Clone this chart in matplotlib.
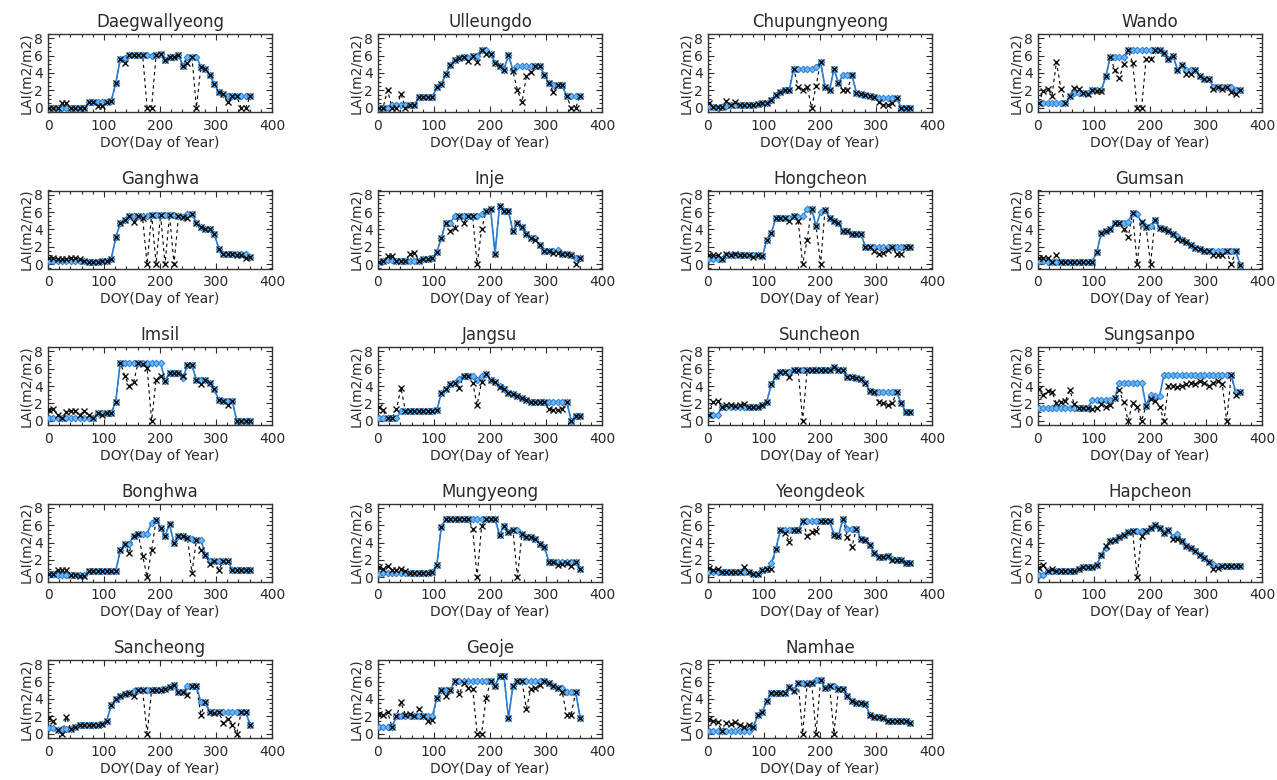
import numpy as np
import matplotlib
matplotlib.use("Agg")
import matplotlib.pyplot as plt
from matplotlib.ticker import MultipleLocator

# 8-day composites, DOY 1..361
doy = list(range(1, 362, 8))

stations = ["Daegwallyeong", "Ulleungdo", "Chupungnyeong", "Wando",
            "Ganghwa", "Inje", "Hongcheon", "Gumsan",
            "Imsil", "Jangsu", "Suncheon", "Sungsanpo",
            "Bonghwa", "Mungyeong", "Yeongdeok", "Hapcheon",
            "Sancheong", "Geoje", "Namhae"]

# blue series (filtered LAI), one list per station
lai_daegwallyeong = [0.0, 0.0, 0.0, 0.0, 0.0, 0.0, 0.0, 0.0, 0.0, 0.6,
                     0.6, 0.6, 0.6, 0.6, 0.8, 2.8, 5.6, 5.7, 6.1, 6.1,
                     6.1, 6.1, 6.1, 6.0, 6.1, 6.2, 5.5, 5.8, 5.8, 6.1,
                     4.8, 5.9, 5.9, 5.9, 4.7, 4.5, 3.8, 2.7, 1.8, 1.6,
                     1.3, 1.3, 1.3, 1.3, 1.3, 1.3]
lai_ulleungdo = [0.0, 0.0, 0.0, 0.3, 0.3, 0.3, 0.3, 0.3, 0.3, 1.2,
                 1.2, 1.2, 1.2, 2.4, 2.7, 3.9, 4.9, 5.5, 5.7, 5.9,
                 5.7, 6.0, 6.0, 6.7, 6.6, 6.2, 5.2, 4.8, 4.4, 6.1,
                 4.3, 4.8, 4.8, 4.8, 4.8, 4.8, 4.8, 3.8, 2.8, 2.6,
                 2.6, 2.6, 1.3, 1.3, 1.3, 1.3]
lai_chupungnyeong = [0.2, 0.1, 0.0, 0.1, 0.2, 0.3, 0.3, 0.3, 0.3, 0.3,
                     0.3, 0.4, 0.5, 0.5, 0.9, 1.5, 1.8, 2.0, 2.0, 4.5,
                     4.5, 4.5, 4.5, 4.5, 4.7, 5.3, 2.4, 2.0, 4.5, 2.8,
                     3.8, 3.8, 3.8, 1.7, 1.6, 1.5, 1.3, 1.2, 1.1, 1.1,
                     1.1, 1.1, 1.1, 0.0, 0.0, 0.0]
lai_wando = [0.5, 0.5, 0.5, 0.5, 0.5, 0.5, 0.5, 1.3, 1.7, 1.7,
             1.7, 1.7, 2.0, 2.0, 2.0, 3.6, 5.8, 5.8, 5.8, 5.8,
             6.6, 6.6, 6.6, 6.6, 6.6, 6.6, 6.6, 6.6, 6.3, 5.6,
             6.0, 4.4, 4.9, 4.4, 4.4, 4.4, 3.6, 3.3, 3.3, 2.4,
             2.4, 2.4, 2.4, 2.4, 2.0, 2.0]
lai_ganghwa = [0.4, 0.4, 0.4, 0.4, 0.4, 0.4, 0.4, 0.4, 0.4, 0.3,
               0.3, 0.3, 0.4, 0.4, 0.6, 3.1, 4.7, 5.1, 5.6, 5.5,
               5.5, 5.5, 5.5, 5.7, 5.7, 5.7, 5.7, 5.7, 5.7, 5.5,
               5.4, 5.8, 5.8, 4.8, 4.3, 4.0, 4.0, 3.5, 1.8, 1.2,
               1.2, 1.2, 1.2, 1.2, 1.2, 0.8]
lai_inje = [0.2, 0.4, 0.5, 0.5, 0.4, 0.4, 0.4, 0.4, 0.4, 0.4,
            0.6, 0.6, 0.7, 1.4, 3.0, 4.8, 4.8, 5.5, 5.5, 5.5,
            5.5, 5.5, 5.6, 5.8, 6.1, 6.4, 1.2, 6.7, 6.1, 6.1,
            3.8, 4.7, 4.3, 3.5, 3.0, 3.0, 2.2, 1.5, 1.5, 1.5,
            1.6, 1.2, 1.2, 1.0, 0.7, 0.7]
lai_hongcheon = [0.6, 0.6, 0.6, 0.6, 1.0, 1.0, 1.0, 1.0, 1.0, 1.0,
                 1.0, 1.0, 0.9, 2.8, 3.6, 5.3, 5.3, 5.3, 5.3, 5.5,
                 5.4, 5.5, 6.4, 6.4, 4.4, 6.0, 6.3, 5.3, 5.0, 4.8,
                 3.8, 3.8, 3.5, 3.5, 3.5, 2.0, 2.0, 2.0, 2.0, 2.0,
                 2.0, 2.0, 2.0, 2.0, 2.0, 2.0]
lai_gumsan = [0.4, 0.4, 0.3, 0.3, 0.3, 0.3, 0.3, 0.3, 0.3, 0.3,
              0.3, 0.3, 0.3, 1.4, 3.6, 3.8, 4.1, 4.7, 4.7, 4.7,
              4.9, 5.9, 5.8, 4.8, 4.3, 4.4, 5.1, 4.2, 4.0, 3.8,
              3.5, 3.2, 2.8, 2.5, 2.2, 1.9, 1.7, 1.5, 1.5, 1.5,
              1.5, 1.5, 1.5, 1.5, 1.5, -0.1]
lai_imsil = [0.3, 0.3, 0.3, 0.3, 0.3, 0.3, 0.3, 0.3, 0.3, 0.3,
             0.3, 0.9, 0.9, 0.9, 0.9, 2.2, 6.7, 6.7, 6.7, 6.7,
             6.7, 6.7, 6.7, 6.7, 6.7, 6.7, 4.6, 5.5, 5.5, 5.5,
             4.9, 6.4, 6.4, 4.7, 4.7, 4.7, 4.3, 3.6, 2.4, 2.3,
             2.3, 2.3, 0.0, 0.0, 0.0, 0.0]
lai_jangsu = [0.3, 0.3, 0.3, 0.3, 0.3, 1.1, 1.1, 1.1, 1.1, 1.1,
              1.1, 1.1, 1.1, 1.2, 3.2, 3.6, 4.2, 4.4, 4.8, 5.2,
              5.2, 5.2, 4.7, 5.2, 5.4, 4.7, 4.5, 4.0, 3.6, 3.2,
              3.1, 2.8, 2.6, 2.4, 2.2, 2.2, 2.2, 2.2, 2.2, 2.2,
              2.2, 2.2, 2.2, 0.0, 0.5, 0.5]
lai_suncheon = [0.6, 0.6, 0.6, 1.6, 1.6, 1.6, 1.6, 1.6, 1.6, 1.6,
                1.6, 1.6, 1.8, 2.2, 4.2, 5.1, 5.6, 5.6, 5.6, 5.8,
                5.8, 5.8, 5.8, 5.9, 5.9, 5.9, 5.9, 5.9, 6.2, 5.8,
                5.8, 5.0, 5.0, 4.9, 4.8, 4.3, 3.4, 3.3, 3.3, 3.3,
                3.3, 3.3, 3.3, 2.0, 1.0, 1.0]
lai_sungsanpo = [1.5, 1.5, 1.5, 1.5, 1.5, 1.5, 1.5, 1.5, 1.5, 1.5,
                 1.5, 1.5, 2.4, 2.4, 2.4, 2.4, 2.4, 2.6, 4.4, 4.4,
                 4.4, 4.4, 4.4, 4.4, 1.7, 3.0, 2.9, 2.8, 5.3, 5.3,
                 5.3, 5.3, 5.3, 5.3, 5.3, 5.3, 5.3, 5.3, 5.3, 5.3,
                 5.3, 5.3, 5.3, 5.3, 3.3, 3.3]
lai_bonghwa = [0.4, 0.4, 0.2, 0.2, 0.2, 0.2, 0.2, 0.2, 0.2, 0.7,
               0.7, 0.7, 0.7, 0.7, 0.7, 0.7, 3.1, 3.8, 3.8, 4.8,
               5.0, 5.0, 5.0, 6.3, 6.6, 5.7, 4.8, 6.1, 3.9, 4.8,
               4.8, 4.5, 4.4, 4.3, 4.3, 2.6, 1.9, 1.9, 1.9, 1.9,
               1.9, 0.8, 0.8, 0.8, 0.8, 0.8]
lai_mungyeong = [0.4, 0.5, 0.5, 0.5, 0.5, 0.5, 0.5, 0.5, 0.5, 0.5,
                 0.5, 0.5, 0.6, 1.4, 5.8, 6.7, 6.7, 6.7, 6.7, 6.7,
                 6.7, 6.7, 6.7, 6.7, 6.7, 6.7, 6.7, 4.9, 5.9, 5.2,
                 5.4, 5.4, 5.0, 4.6, 4.6, 4.4, 3.8, 3.5, 1.8, 1.8,
                 1.8, 1.8, 1.8, 1.8, 1.7, 1.0]
lai_yeongdeok = [0.6, 0.6, 0.6, 0.6, 0.6, 0.6, 0.6, 0.6, 0.6, 0.6,
                 0.4, 0.4, 0.8, 0.9, 1.6, 3.2, 5.4, 5.4, 5.4, 5.4,
                 5.4, 6.5, 6.5, 6.5, 6.5, 6.5, 6.5, 6.5, 4.9, 4.8,
                 6.7, 5.6, 5.6, 5.6, 4.4, 4.3, 3.7, 2.8, 2.3, 2.3,
                 2.5, 2.1, 2.0, 2.0, 1.6, 1.6]
lai_hapcheon = [0.3, 0.3, 0.7, 0.7, 0.7, 0.7, 0.7, 0.7, 0.7, 0.9,
                1.2, 1.2, 1.2, 1.4, 2.6, 3.4, 4.2, 4.3, 4.6, 4.9,
                5.2, 5.3, 5.3, 5.3, 5.3, 5.7, 6.0, 5.7, 5.1, 5.4,
                4.6, 5.0, 4.2, 3.6, 3.4, 3.0, 2.6, 2.2, 1.8, 1.5,
                1.3, 1.3, 1.3, 1.3, 1.3, 1.3]
lai_sancheong = [0.6, 0.6, 0.4, 0.5, 0.5, 0.5, 0.8, 1.0, 1.0, 1.0,
                 1.0, 1.0, 1.1, 1.5, 3.3, 4.0, 4.3, 4.6, 4.7, 4.9,
                 5.0, 5.0, 5.0, 5.0, 5.0, 5.0, 5.2, 5.4, 5.6, 4.8,
                 4.8, 5.5, 5.5, 5.5, 3.6, 3.6, 2.5, 2.5, 2.5, 2.5,
                 2.5, 2.5, 2.5, 2.5, 2.5, 1.0]
lai_geoje = [0.8, 0.8, 0.8, 0.8, 2.0, 2.0, 2.0, 2.0, 2.0, 2.0,
             2.0, 2.0, 2.0, 4.1, 5.0, 5.0, 5.0, 6.1, 6.1, 6.1,
             6.1, 6.1, 6.1, 6.1, 6.1, 6.1, 5.5, 6.7, 6.6, 1.8,
             5.5, 6.1, 6.1, 6.1, 6.1, 6.1, 6.1, 6.1, 5.8, 5.5,
             5.3, 5.3, 4.8, 4.8, 4.8, 1.8]
lai_namhae = [0.3, 0.3, 0.3, 0.3, 0.3, 0.3, 0.3, 0.3, 0.3, 0.3,
              0.8, 2.1, 2.5, 3.8, 4.7, 4.7, 4.7, 4.7, 5.4, 5.0,
              5.9, 5.9, 5.9, 5.9, 6.2, 6.2, 5.3, 5.5, 5.5, 5.2,
              5.2, 4.3, 3.8, 3.5, 3.5, 3.4, 2.2, 1.9, 1.9, 1.8,
              1.5, 1.5, 1.5, 1.5, 1.5, 1.2]

lai_filtered = [lai_daegwallyeong, lai_ulleungdo, lai_chupungnyeong, lai_wando,
                lai_ganghwa, lai_inje, lai_hongcheon, lai_gumsan,
                lai_imsil, lai_jangsu, lai_suncheon, lai_sungsanpo,
                lai_bonghwa, lai_mungyeong, lai_yeongdeok, lai_hapcheon,
                lai_sancheong, lai_geoje, lai_namhae]

# black crosses (raw LAI): composite index -> value, where it differs from the blue curve
raw_diff = [
    {3: 0.5, 4: 0.5, 7: 0.0, 11: 0.2, 12: 0.2, 17: 5.1, 22: 0.0, 23: 0.0, 31: 5.1, 33: 0.0,
     40: 0.6, 43: 0.0, 44: 0.0},
    {2: 2.0, 3: 0.0, 4: 0.0, 5: 1.6, 6: 0.0, 20: 5.4, 22: 5.3, 24: 6.2, 30: 4.2, 31: 2.0,
     32: 0.6, 33: 3.6, 34: 4.1, 39: 1.8, 43: 0.0, 44: 0.0},
    {0: 0.5, 2: 0.1, 4: 0.8, 6: 0.6, 20: 2.4, 21: 2.0, 22: 2.4, 23: 0.0, 24: 2.5, 30: 2.0,
     31: 2.0, 38: 0.6, 39: 0.3, 40: 0.3, 41: 0.5},
    {1: 1.9, 2: 2.2, 3: 1.4, 4: 5.3, 5: 2.1, 8: 2.3, 9: 2.2, 11: 1.6, 13: 1.9, 14: 1.9,
     17: 4.4, 18: 3.4, 19: 5.0, 21: 5.2, 22: 0.0, 23: 0.0, 24: 5.6, 25: 5.6, 33: 3.9, 34: 3.9,
     39: 2.2, 41: 2.1, 43: 1.8, 44: 1.6},
    {0: 0.7, 1: 0.7, 2: 0.6, 3: 0.6, 4: 0.6, 5: 0.7, 6: 0.7, 7: 0.6, 19: 4.9, 21: 5.3,
     22: 0.0, 24: 0.0, 26: 0.0, 28: 0.0, 31: 5.3, 42: 1.0, 43: 1.0, 44: 0.7},
    {2: 0.9, 3: 0.9, 7: 1.2, 8: 1.3, 16: 3.8, 17: 4.2, 19: 4.8, 22: 0.0, 23: 4.0, 35: 2.8,
     39: 1.3, 40: 1.3, 44: 0.0},
    {0: 1.0, 1: 1.0, 2: 1.0, 4: 1.2, 6: 1.2, 7: 1.1, 10: 0.8, 18: 5.0, 20: 5.0, 21: 0.0,
     22: 2.8, 25: 0.0, 37: 1.5, 38: 1.2, 39: 1.3, 40: 1.6, 42: 1.2, 43: 1.2},
    {0: 0.7, 1: 0.7, 2: 0.7, 4: 1.0, 19: 4.0, 20: 3.1, 22: 0.0, 23: 4.9, 25: 0.0, 31: 2.9,
     39: 1.1, 40: 1.1, 41: 1.1, 43: 0.0},
    {0: 1.2, 1: 1.3, 2: 0.7, 4: 1.0, 5: 1.1, 6: 1.1, 7: 0.7, 8: 1.1, 9: 0.6, 12: 0.6,
     17: 5.2, 18: 4.0, 19: 4.5, 21: 6.5, 22: 6.1, 23: 0.0, 24: 4.7, 25: 5.2, 30: 5.2, 34: 4.2,
     40: 1.8},
    {0: 1.6, 1: 1.2, 4: 1.3, 5: 3.8, 18: 3.8, 21: 4.4, 22: 1.8, 23: 4.5, 27: 3.9, 38: 1.4,
     39: 1.2, 40: 1.2, 41: 1.3},
    {1: 2.2, 2: 2.3, 4: 1.8, 5: 1.8, 6: 1.7, 7: 1.8, 8: 1.9, 18: 5.0, 21: 0.0, 38: 2.2,
     39: 2.0, 40: 1.8, 41: 2.0},
    {0: 3.7, 1: 3.0, 2: 3.4, 3: 3.3, 4: 2.0, 5: 2.1, 6: 2.3, 7: 3.5, 8: 1.9, 12: 1.4,
     13: 1.5, 14: 1.9, 15: 1.6, 16: 1.8, 18: 3.5, 19: 2.1, 20: 0.0, 21: 2.0, 22: 1.6, 23: 0.0,
     25: 2.5, 26: 2.3, 27: 1.6, 28: 0.0, 29: 4.0, 30: 4.0, 31: 3.9, 32: 4.0, 33: 4.2, 34: 4.4,
     35: 4.2, 36: 4.6, 37: 4.4, 38: 4.0, 39: 4.3, 40: 4.6, 41: 4.2, 42: 0.0, 44: 3.0},
    {2: 0.8, 3: 0.8, 4: 0.8, 7: 0.1, 8: 0.1, 18: 2.8, 21: 2.5, 22: 0.0, 23: 3.1, 32: 0.5,
     34: 3.1, 36: 1.5, 38: 0.8},
    {0: 1.2, 1: 1.0, 2: 1.3, 3: 0.8, 4: 0.8, 5: 1.0, 6: 0.7, 21: 5.6, 22: 0.0, 23: 5.9,
     31: 0.0, 40: 1.4, 41: 1.5, 42: 1.6, 43: 1.3},
    {0: 1.1, 1: 0.8, 2: 0.9, 8: 1.2, 14: 1.0, 17: 5.1, 18: 4.1, 22: 4.8, 23: 5.2, 24: 5.3,
     31: 4.6, 32: 3.5, 41: 2.0},
    {0: 1.1, 1: 1.4, 3: 1.0, 15: 3.6, 22: 0.0, 23: 4.8, 30: 4.4, 31: 4.4, 39: 1.0, 40: 1.1},
    {0: 1.8, 1: 1.5, 3: 0.0, 4: 1.9, 19: 4.3, 22: 0.0, 30: 4.8, 31: 4.5, 34: 2.2, 37: 2.4,
     39: 1.2, 40: 1.7, 41: 1.0, 42: 0.0},
    {0: 2.3, 1: 2.2, 2: 2.5, 5: 3.6, 6: 2.2, 7: 2.3, 9: 2.8, 11: 1.5, 12: 1.6, 15: 4.3,
     18: 4.6, 19: 5.8, 20: 5.3, 21: 5.2, 22: 0.0, 23: 0.0, 24: 4.1, 33: 2.9, 34: 5.2, 35: 5.3,
     36: 5.6, 41: 4.8, 42: 2.1, 43: 2.2},
    {0: 1.7, 1: 1.5, 2: 1.3, 4: 1.2, 5: 1.1, 6: 1.3, 7: 1.0, 8: 0.8, 9: 1.0, 19: 4.9,
     21: 0.0, 22: 5.7, 24: 0.0, 28: 0.0},
]

W, H = 1277, 780
fig = plt.figure(figsize=(W / 100, H / 100), dpi=100)
plt.rcParams['font.family'] = ['DejaVu Sans']

txt = '#2a2a2a'
line_blue = '#2a7ed6'
fill_blue = '#6cb8f4'

for i, name in enumerate(stations):
    row, col = divmod(i, 4)
    left = (48 + 330 * col) / W
    top = (34 + 156.5 * row) / H
    ax = fig.add_axes([left, 1 - top - 78 / H, 224 / W, 78 / H])

    lai = lai_filtered[i]
    raw = list(lai)
    for k, v in raw_diff[i].items():
        raw[k] = v

    ax.plot(doy, raw, color='k', lw=0.8, ls=(0, (3, 3)), zorder=2)
    ax.plot(doy, lai, color=line_blue, lw=1.2, marker='D', ms=3.4,
            mfc=fill_blue, mec=line_blue, mew=0.7, zorder=3)
    ax.plot(doy, raw, ls='none', marker='x', ms=4.2, mew=1.0, color='#111111', zorder=4)

    ax.set_xlim(0, 400)
    ax.set_ylim(-0.5, 8.5)
    ax.set_xticks([0, 100, 200, 300, 400])
    ax.set_yticks([0, 2, 4, 6, 8])
    ax.xaxis.set_minor_locator(MultipleLocator(20))
    ax.yaxis.set_minor_locator(MultipleLocator(0.5))
    ax.tick_params(which='both', direction='in', top=True, right=True,
                   labelsize=10, colors=txt, width=0.8)
    ax.tick_params(which='major', length=4)
    ax.tick_params(which='minor', length=2)
    ax.tick_params(axis='x', which='major', pad=5)
    for s in ax.spines.values():
        s.set_linewidth(1.0)
        s.set_color('#333333')
    ax.set_title(name, fontsize=12, color=txt, pad=5)
    ax.set_xlabel('DOY(Day of Year)', fontsize=10, color=txt, labelpad=2)
    ax.set_ylabel('LAI(m2/m2)', fontsize=10, color=txt, labelpad=1)

fig.savefig('out.png', dpi=100)
